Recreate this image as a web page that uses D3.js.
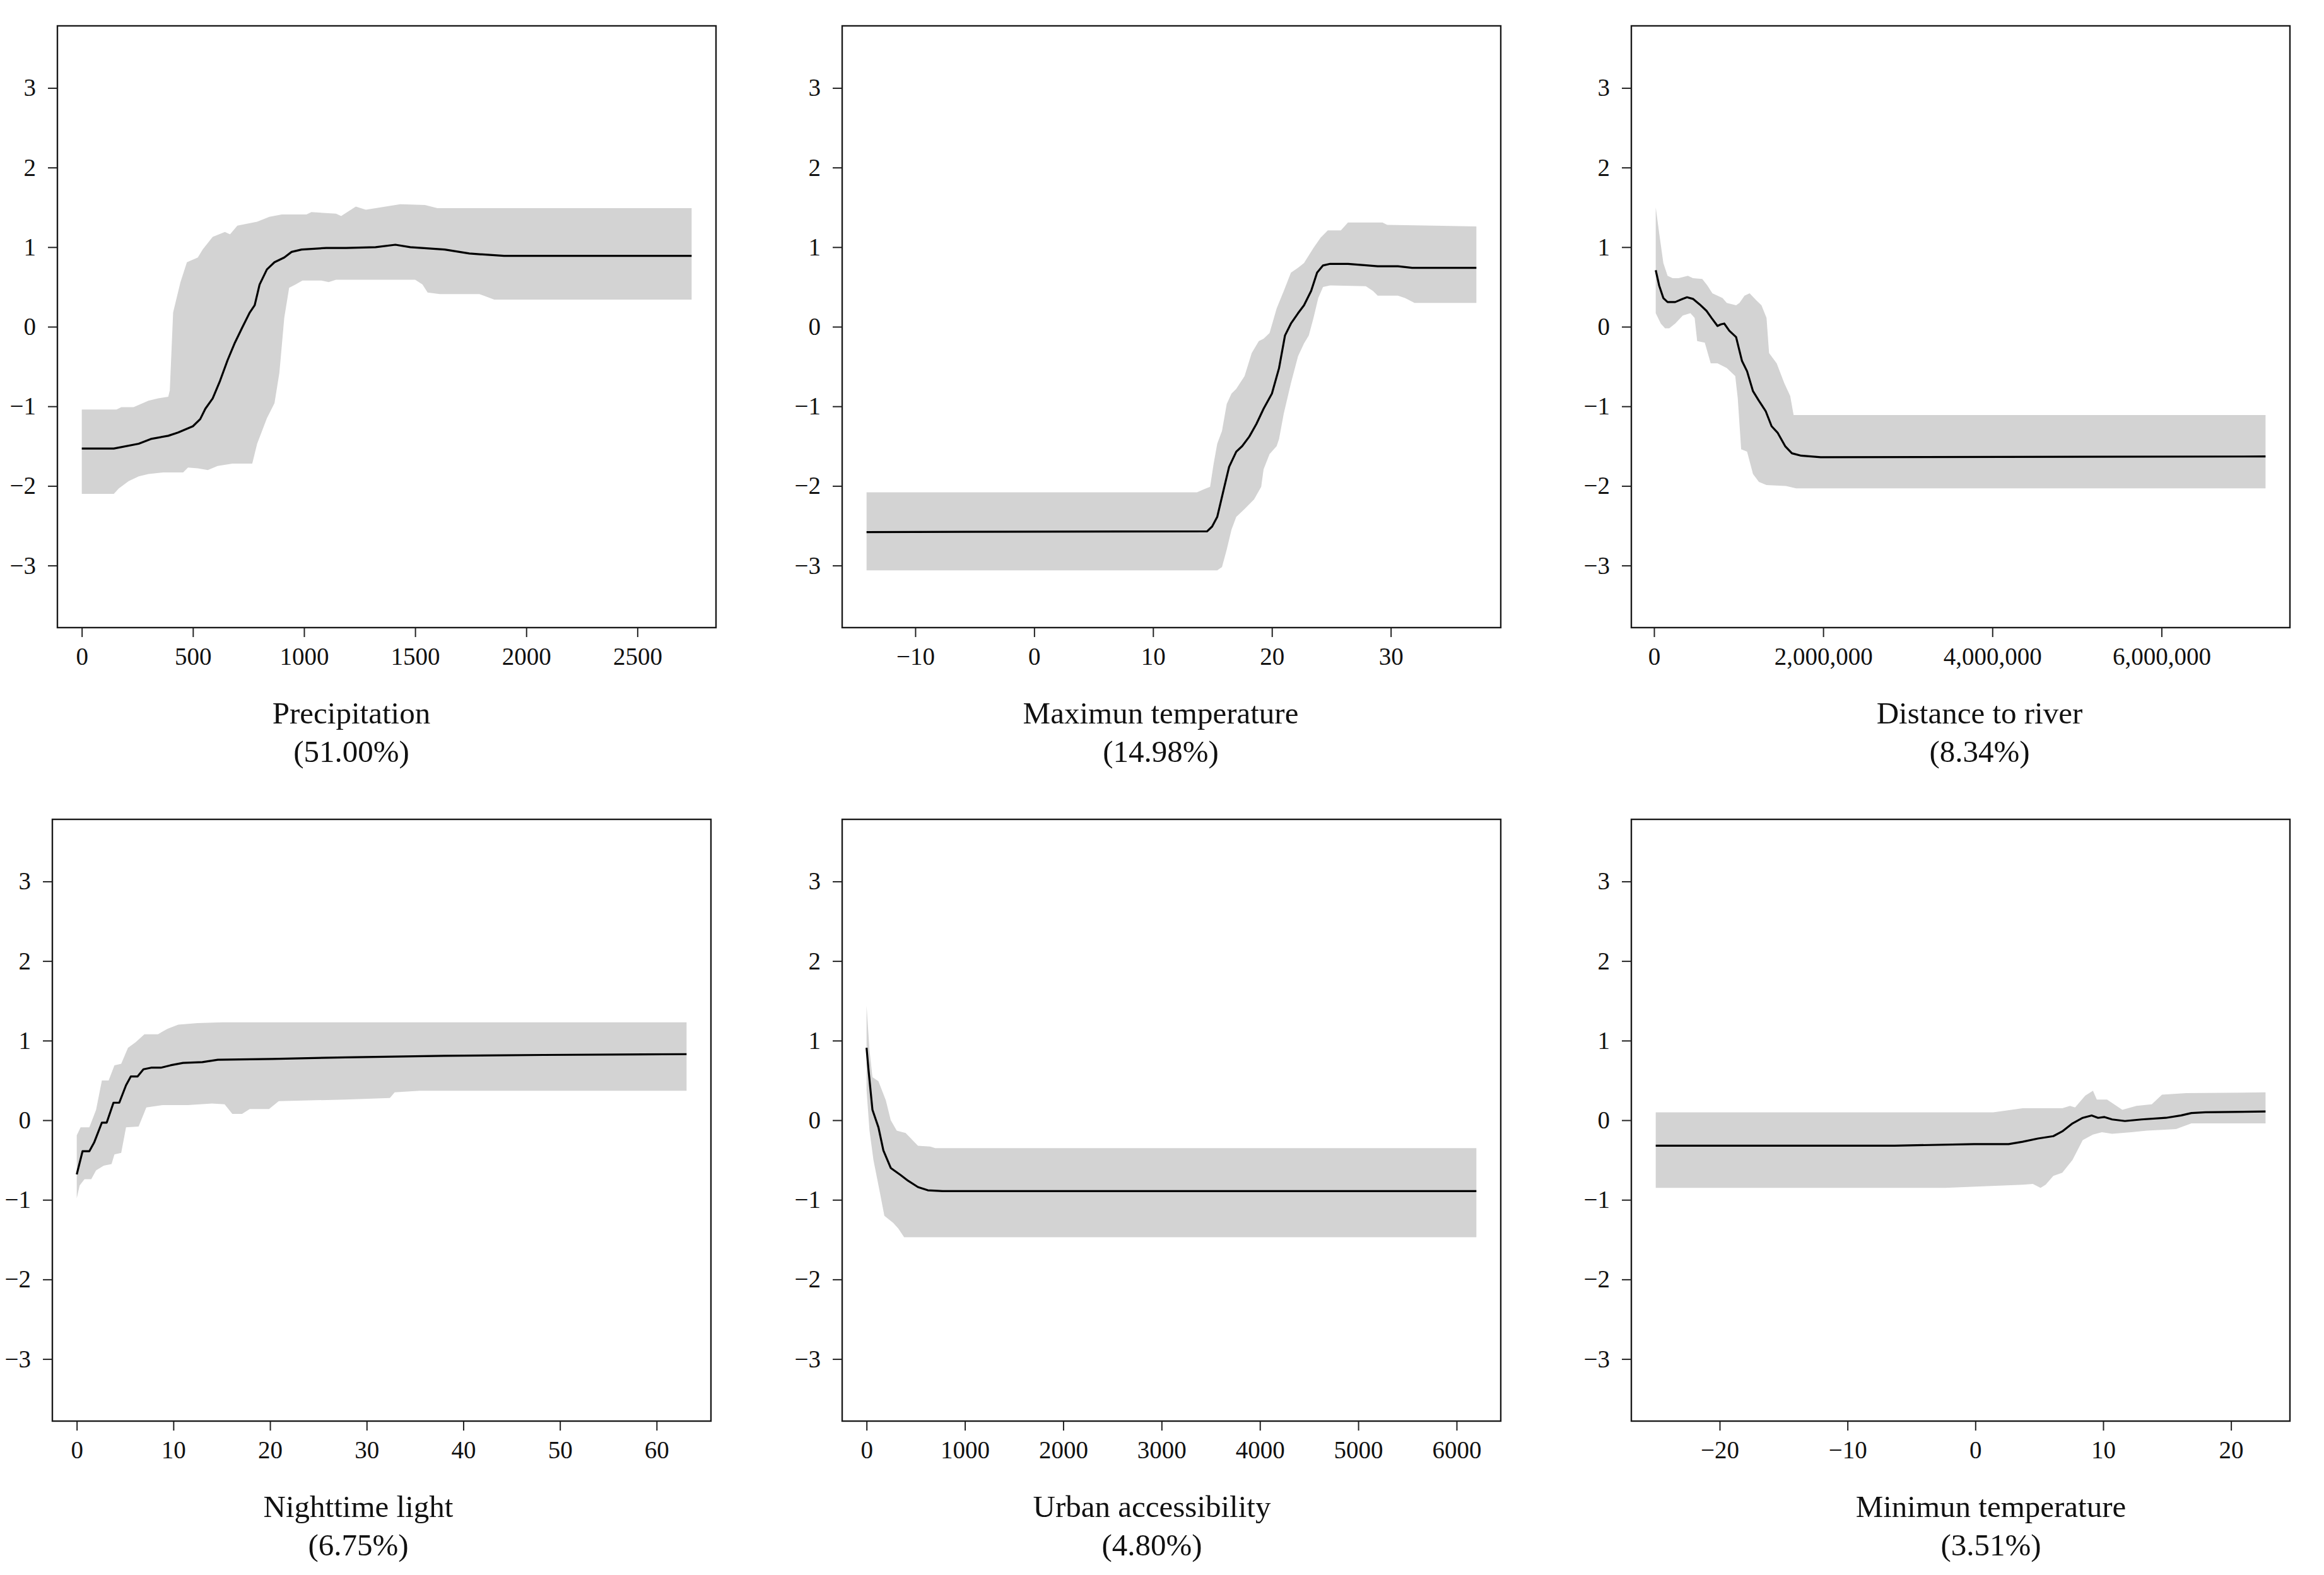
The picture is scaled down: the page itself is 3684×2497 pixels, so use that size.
<!DOCTYPE html>
<html>
<head>
<meta charset="utf-8">
<script src="https://cdn.jsdelivr.net/npm/d3@7"></script>
<style>
  body { margin: 0; background: #fff; }
</style>
</head>
<body>
<div id="chart"></div>
<script>
// ---- data: [x, y] pairs ----
const precipFit = [[0,-1.53],[144,-1.53],[256,-1.47],[311,-1.41],[389,-1.37],[433,-1.33],[500,-1.25],[533,-1.16],[556,-1.03],[589,-0.90],[622,-0.68],[656,-0.42],[689,-0.20],[722,-0.01],[756,0.18],[778,0.27],[800,0.53],[833,0.72],[867,0.81],[911,0.87],[944,0.94],[989,0.97],[1100,0.99],[1189,0.99],[1322,1.00],[1411,1.03],[1478,1.00],[1633,0.97],[1744,0.92],[1900,0.89],[2078,0.89],[2744,0.89]];
const precipUpper = [[0,-1.04],[156,-1.04],[178,-1.01],[233,-1.01],[300,-0.93],[344,-0.90],[389,-0.88],[396,-0.80],[411,0.18],[444,0.56],[473,0.81],[522,0.87],[544,0.97],[589,1.13],[644,1.19],[667,1.16],[700,1.27],[789,1.32],[844,1.38],[900,1.41],[1011,1.41],[1033,1.44],[1144,1.42],[1167,1.39],[1233,1.51],[1278,1.47],[1367,1.51],[1433,1.54],[1544,1.53],[1600,1.49],[2744,1.49]];
const precipLower = [[0,-2.10],[144,-2.10],[167,-2.03],[211,-1.94],[256,-1.88],[300,-1.85],[367,-1.83],[456,-1.83],[478,-1.77],[522,-1.78],[567,-1.80],[611,-1.75],[678,-1.72],[767,-1.72],[789,-1.47],[833,-1.15],[867,-0.96],[889,-0.58],[911,0.11],[933,0.49],[962,0.53],[993,0.58],[1078,0.58],[1111,0.56],[1144,0.59],[1500,0.59],[1533,0.53],[1556,0.43],[1611,0.41],[1789,0.41],[1856,0.34],[2744,0.34]];

const tmaxFit = [[-14.1,-2.58],[14.55,-2.57],[14.97,-2.51],[15.4,-2.39],[16.0,-2.01],[16.4,-1.76],[17.0,-1.57],[17.5,-1.50],[18.1,-1.38],[18.7,-1.22],[19.3,-1.03],[20.0,-0.84],[20.6,-0.52],[21.1,-0.11],[21.6,0.04],[22.2,0.17],[22.7,0.27],[23.3,0.45],[23.8,0.68],[24.3,0.77],[24.9,0.79],[26.4,0.79],[28.1,0.77],[28.9,0.76],[30.6,0.76],[31.8,0.74],[37.2,0.74]];
const tmaxUpper = [[-14.1,-2.08],[13.7,-2.08],[14.3,-2.04],[14.8,-2.01],[15.1,-1.72],[15.4,-1.47],[15.8,-1.31],[16.2,-0.97],[16.6,-0.84],[17.0,-0.78],[17.7,-0.62],[18.3,-0.33],[18.9,-0.18],[19.3,-0.15],[19.8,-0.08],[20.4,0.23],[21.0,0.45],[21.6,0.68],[22.2,0.74],[22.7,0.80],[23.5,0.99],[24.1,1.12],[24.7,1.21],[25.8,1.21],[26.4,1.31],[29.3,1.31],[29.7,1.28],[37.2,1.26]];
const tmaxLower = [[-14.1,-3.06],[15.4,-3.06],[15.8,-3.02],[16.2,-2.80],[16.6,-2.55],[17.0,-2.39],[17.7,-2.29],[18.5,-2.17],[19.1,-2.01],[19.3,-1.79],[19.8,-1.60],[20.4,-1.50],[20.6,-1.41],[21.0,-1.09],[21.6,-0.71],[22.2,-0.37],[22.7,-0.21],[23.1,-0.11],[23.5,0.11],[23.9,0.36],[24.3,0.50],[24.9,0.52],[27.9,0.51],[28.5,0.45],[28.9,0.39],[30.6,0.39],[31.2,0.36],[32.0,0.30],[37.2,0.30]];

const riverFit = [[0.02e6,0.71],[0.06e6,0.52],[0.11e6,0.36],[0.16e6,0.31],[0.25e6,0.31],[0.34e6,0.35],[0.39e6,0.37],[0.46e6,0.35],[0.54e6,0.28],[0.62e6,0.20],[0.68e6,0.11],[0.75e6,0.01],[0.79e6,0.03],[0.83e6,0.04],[0.89e6,-0.05],[0.97e6,-0.13],[1.04e6,-0.43],[1.10e6,-0.56],[1.17e6,-0.81],[1.24e6,-0.93],[1.32e6,-1.06],[1.39e6,-1.25],[1.46e6,-1.33],[1.55e6,-1.50],[1.63e6,-1.59],[1.74e6,-1.62],[1.97e6,-1.64],[7.23e6,-1.63]];
const riverUpper = [[0.02e6,1.50],[0.06e6,1.18],[0.11e6,0.80],[0.16e6,0.64],[0.22e6,0.61],[0.29e6,0.61],[0.40e6,0.64],[0.46e6,0.61],[0.57e6,0.60],[0.63e6,0.52],[0.69e6,0.42],[0.81e6,0.36],[0.86e6,0.30],[0.97e6,0.27],[1.01e6,0.30],[1.07e6,0.39],[1.13e6,0.42],[1.21e6,0.33],[1.27e6,0.27],[1.33e6,0.11],[1.36e6,-0.33],[1.45e6,-0.46],[1.54e6,-0.71],[1.61e6,-0.87],[1.65e6,-1.11],[1.68e6,-1.11],[7.23e6,-1.11]];
const riverLower = [[0.02e6,0.17],[0.08e6,0.04],[0.13e6,-0.02],[0.18e6,-0.02],[0.25e6,0.04],[0.34e6,0.14],[0.43e6,0.17],[0.48e6,0.11],[0.51e6,-0.18],[0.60e6,-0.20],[0.67e6,-0.46],[0.75e6,-0.46],[0.86e6,-0.52],[0.96e6,-0.62],[0.99e6,-0.90],[1.03e6,-1.54],[1.10e6,-1.57],[1.17e6,-1.85],[1.24e6,-1.95],[1.33e6,-1.99],[1.56e6,-2.00],[1.68e6,-2.03],[7.23e6,-2.03]];

const lightFit = [[0,-0.68],[0.6,-0.39],[1.3,-0.39],[1.8,-0.28],[2.6,-0.03],[3.1,-0.03],[3.8,0.22],[4.4,0.22],[5.1,0.44],[5.6,0.55],[6.3,0.55],[6.9,0.64],[7.7,0.66],[8.7,0.66],[9.7,0.69],[11.0,0.72],[13.0,0.73],[14.6,0.76],[20.2,0.77],[27.8,0.79],[38.0,0.81],[48.3,0.82],[63.1,0.83]];
const lightUpper = [[0,-0.19],[0.4,-0.09],[1.3,-0.09],[2.0,0.13],[2.6,0.50],[3.3,0.50],[3.9,0.69],[4.6,0.71],[5.3,0.91],[6.1,0.98],[7.0,1.08],[8.4,1.08],[9.4,1.15],[10.5,1.20],[12.5,1.22],[15.1,1.23],[63.1,1.23]];
const lightLower = [[0,-0.98],[0.3,-0.82],[0.8,-0.74],[1.5,-0.74],[2.0,-0.63],[2.8,-0.57],[3.6,-0.55],[3.9,-0.43],[4.6,-0.41],[5.1,-0.09],[6.4,-0.08],[7.2,0.16],[8.9,0.19],[11.5,0.19],[14.0,0.21],[15.3,0.20],[16.1,0.08],[17.1,0.08],[17.9,0.14],[19.9,0.14],[20.9,0.24],[27.8,0.26],[32.4,0.28],[32.9,0.35],[35.5,0.37],[63.1,0.37]];

const urbanFit = [[0,0.91],[20,0.63],[60,0.13],[121,-0.09],[171,-0.38],[246,-0.60],[347,-0.69],[422,-0.76],[523,-0.84],[623,-0.88],[774,-0.89],[6201,-0.89]];
const urbanUpper = [[0,1.44],[30,0.88],[60,0.54],[121,0.49],[196,0.25],[246,0.00],[307,-0.13],[397,-0.16],[523,-0.32],[648,-0.33],[698,-0.35],[6201,-0.35]];
const urbanLower = [[0,0.38],[30,-0.13],[70,-0.50],[131,-0.88],[181,-1.20],[271,-1.29],[322,-1.36],[382,-1.47],[6201,-1.47]];

const tminFit = [[-25.0,-0.32],[-6.3,-0.32],[-0.1,-0.30],[2.6,-0.30],[3.7,-0.27],[4.9,-0.23],[6.1,-0.20],[6.8,-0.14],[7.6,-0.04],[8.4,0.03],[9.1,0.06],[9.6,0.03],[10.1,0.04],[10.7,0.01],[11.7,-0.01],[13.0,0.01],[14.9,0.03],[16.1,0.06],[16.9,0.09],[18.0,0.10],[22.7,0.11]];
const tminUpper = [[-25.0,0.10],[1.4,0.10],[3.7,0.15],[6.8,0.15],[7.4,0.18],[7.8,0.16],[8.6,0.31],[9.2,0.37],[9.5,0.26],[10.3,0.26],[11.5,0.13],[12.6,0.18],[13.8,0.20],[14.6,0.32],[16.5,0.34],[22.7,0.35]];
const tminLower = [[-25.0,-0.85],[-2.4,-0.85],[3.7,-0.81],[4.5,-0.80],[5.1,-0.85],[5.5,-0.81],[6.1,-0.70],[6.8,-0.66],[7.6,-0.50],[8.4,-0.25],[9.2,-0.18],[9.9,-0.15],[10.7,-0.17],[12.2,-0.15],[13.4,-0.13],[14.6,-0.12],[15.7,-0.11],[16.9,-0.04],[22.7,-0.04]];

// ---- labels and ticks ----
const panelTitles = ["Precipitation", "Maximun temperature", "Distance to river", "Nighttime light", "Urban accessibility", "Minimun temperature"];
const panelShares = ["(51.00%)", "(14.98%)", "(8.34%)", "(6.75%)", "(4.80%)", "(3.51%)"];
const precipTicks = [0, 500, 1000, 1500, 2000, 2500];
const tmaxTicks = [-10, 0, 10, 20, 30];
const riverTicks = [0, 2000000, 4000000, 6000000];
const lightTicks = [0, 10, 20, 30, 40, 50, 60];
const urbanTicks = [0, 1000, 2000, 3000, 4000, 5000, 6000];
const tminTicks = [-20, -10, 0, 10, 20];
const yTicks = [-3, -2, -1, 0, 1, 2, 3];
const yLimit = [-3.5, 3.5];

// ---- layout ----
const W = 3684, H = 2497;
const boxW = 1044, boxH = 954;
const FONT = '"Liberation Serif", "Times New Roman", Times, serif';
const boxes = [
    { left: 91, top: 41, titleX: 557 },
    { left: 1335, top: 41, titleX: 1840 },
    { left: 2586, top: 41, titleX: 3138 },
    { left: 83, top: 1299, titleX: 568 },
    { left: 1335, top: 1299, titleX: 1826 },
    { left: 2586, top: 1299, titleX: 3156 }
];

const panels = [
    { fit: precipFit, upper: precipUpper, lower: precipLower, ticks: precipTicks, fmt: d3.format("d") },
    { fit: tmaxFit, upper: tmaxUpper, lower: tmaxLower, ticks: tmaxTicks, fmt: d3.format("d") },
    { fit: riverFit, upper: riverUpper, lower: riverLower, ticks: riverTicks, fmt: d3.format(",") },
    { fit: lightFit, upper: lightUpper, lower: lightLower, ticks: lightTicks, fmt: d3.format("d") },
    { fit: urbanFit, upper: urbanUpper, lower: urbanLower, ticks: urbanTicks, fmt: d3.format("d") },
    { fit: tminFit, upper: tminUpper, lower: tminLower, ticks: tminTicks, fmt: d3.format("d") }
];

// R style range: extend 4% on each side
function padRange(ext) {
    const p = (ext[1] - ext[0]) * 0.04;
    return [ext[0] - p, ext[1] + p];
}

const svg = d3.select("#chart")
    .append("svg")
    .attr("width", W)
    .attr("height", H)
    .attr("font-family", FONT);

svg.append("rect").attr("width", W).attr("height", H).attr("fill", "#fff");

panels.forEach((p, i) => {
    const b = boxes[i];
    const allX = p.fit.concat(p.upper, p.lower).map(d => d[0]);
    const x = d3.scaleLinear().domain(padRange(d3.extent(allX))).range([0, boxW]);
    const y = d3.scaleLinear().domain(padRange(yLimit)).range([boxH, 0]);

    const g = svg.append("g").attr("transform", `translate(${b.left},${b.top})`);

    // confidence band: upper edge forward, lower edge backward
    const band = p.upper.concat(p.lower.slice().reverse());
    g.append("path")
        .attr("d", d3.line().x(d => x(d[0])).y(d => y(d[1]))(band) + "Z")
        .attr("fill", "#d3d3d3")
        .attr("stroke", "none");

    g.append("path")
        .attr("d", d3.line().x(d => x(d[0])).y(d => y(d[1]))(p.fit))
        .attr("fill", "none")
        .attr("stroke", "#000")
        .attr("stroke-width", 3.2)
        .attr("stroke-linejoin", "round");

    // x axis
    const xAxis = g.append("g")
        .attr("transform", `translate(0,${boxH})`)
        .call(d3.axisBottom(x).tickValues(p.ticks).tickFormat(p.fmt).tickSize(15).tickPadding(16));
    xAxis.select(".domain").remove();

    // y axis
    const yAxis = g.append("g")
        .call(d3.axisLeft(y).tickValues(yTicks).tickFormat(d3.format("d")).tickSize(15).tickPadding(19));
    yAxis.select(".domain").remove();

    [xAxis, yAxis].forEach(a => {
        a.attr("font-family", FONT).attr("font-size", 39);
        a.selectAll(".tick line").attr("stroke", "#222").attr("stroke-width", 2);
        a.selectAll(".tick text").attr("fill", "#111");
    });

    g.append("rect")
        .attr("width", boxW)
        .attr("height", boxH)
        .attr("fill", "none")
        .attr("stroke", "#1a1a1a")
        .attr("stroke-width", 2.4);

    // variable name and relative importance
    svg.append("text")
        .attr("x", b.titleX)
        .attr("y", b.top + boxH + 152)
        .attr("text-anchor", "middle")
        .attr("font-size", 49)
        .attr("fill", "#111")
        .text(panelTitles[i]);
    svg.append("text")
        .attr("x", b.titleX)
        .attr("y", b.top + boxH + 213)
        .attr("text-anchor", "middle")
        .attr("font-size", 49)
        .attr("fill", "#111")
        .text(panelShares[i]);
});
</script>
</body>
</html>
